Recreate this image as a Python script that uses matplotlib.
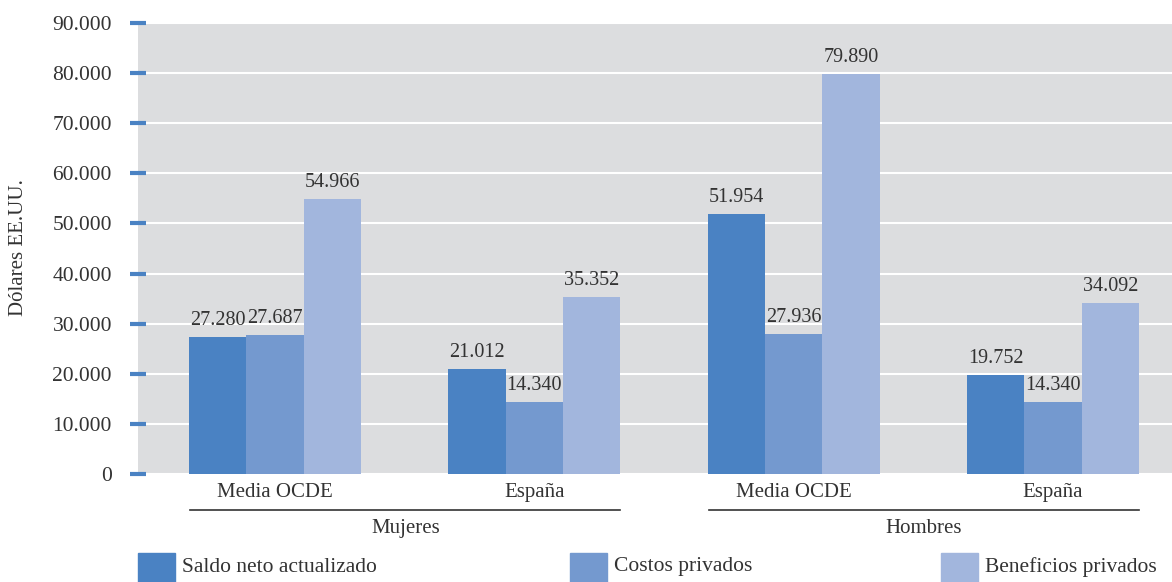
import matplotlib
matplotlib.use("Agg")
import matplotlib.pyplot as plt
import numpy as np
from matplotlib.patches import Rectangle

plt.rcParams['font.family'] = ['Liberation Serif', 'DejaVu Serif']

categories = ["Media OCDE", "España", "Media OCDE", "España"]
groups = ["Mujeres", "Hombres"]
series = ["Saldo neto actualizado", "Costos privados", "Beneficios privados"]
saldo = [27280, 21012, 51954, 19752]
costos = [27687, 14340, 27936, 14340]
beneficios = [54966, 35352, 79890, 34092]
yticks = [0, 10000, 20000, 30000, 40000, 50000, 60000, 70000, 80000, 90000]
colors = ["#4A82C3", "#7499CF", "#A2B6DD"]
text_color = "#333333"

def fmt(v):
    return f"{v:,.0f}".replace(",", ".")

W, H = 1172, 582
fig = plt.figure(figsize=(W/100, H/100), dpi=100)
ax = fig.add_axes([138/W, 1-474/H, (1172-138)/W, (474-23)/H])
ax.set_facecolor("#DCDDDF")

x = np.arange(len(categories))
bw = 0.221
for i, (vals, c) in enumerate(zip([saldo, costos, beneficios], colors)):
    pos = x + (i-1)*bw
    ax.bar(pos, vals, width=bw, color=c, zorder=3, label=series[i])
    for p, v in zip(pos, vals):
        ax.text(p, v + 1400, fmt(v), ha="center", va="bottom", fontsize=14.5, color=text_color, zorder=4)

ax.set_ylim(0, 90000)
ax.set_xlim(-0.528, 3.459)
ax.set_yticks(yticks)
ax.set_yticklabels([fmt(t) for t in yticks], fontsize=15.5, color=text_color)
ax.yaxis.grid(True, color="white", linewidth=1.5, zorder=1)
ax.set_axisbelow(True)
ax.tick_params(axis="y", direction="inout", length=11.5, width=3, color="#4A82C3", pad=13)
ax.set_xticks([])
for s in ax.spines.values():
    s.set_visible(False)

fig.text(19/W, 1-248/H, "Dólares EE.UU.", rotation=90, ha="center", va="center",
         fontsize=15, color=text_color)

# category labels
for xi, cat in zip(x, categories):
    ax.text(xi, -0.04, cat, transform=ax.get_xaxis_transform(), ha="center", va="center",
            fontsize=15, color=text_color, clip_on=False)
# group lines and labels
for gi, g in enumerate(groups):
    x0 = 2*gi - 1.5*bw + 0.005
    x1 = 2*gi + 1 + 1.5*bw
    ax.plot([x0, x1], [-0.08, -0.08], transform=ax.get_xaxis_transform(), color="#333333",
            lw=1.2, clip_on=False)
    ax.text((x0+x1)/2, -0.12, g, transform=ax.get_xaxis_transform(), ha="center", va="center",
            fontsize=15, color=text_color, clip_on=False)

# legend
leg_x = [138, 570, 941]
for lx, c, s in zip(leg_x, colors, series):
    fig.patches.append(Rectangle((lx/W, 1-582/H), 37/W, 29/H, transform=fig.transFigure,
                                 color=c, zorder=5))
    fig.text((lx+44)/W, 1-567/H, s, ha="left", va="center", fontsize=15.5, color=text_color)

fig.savefig("out.png", dpi=100)
